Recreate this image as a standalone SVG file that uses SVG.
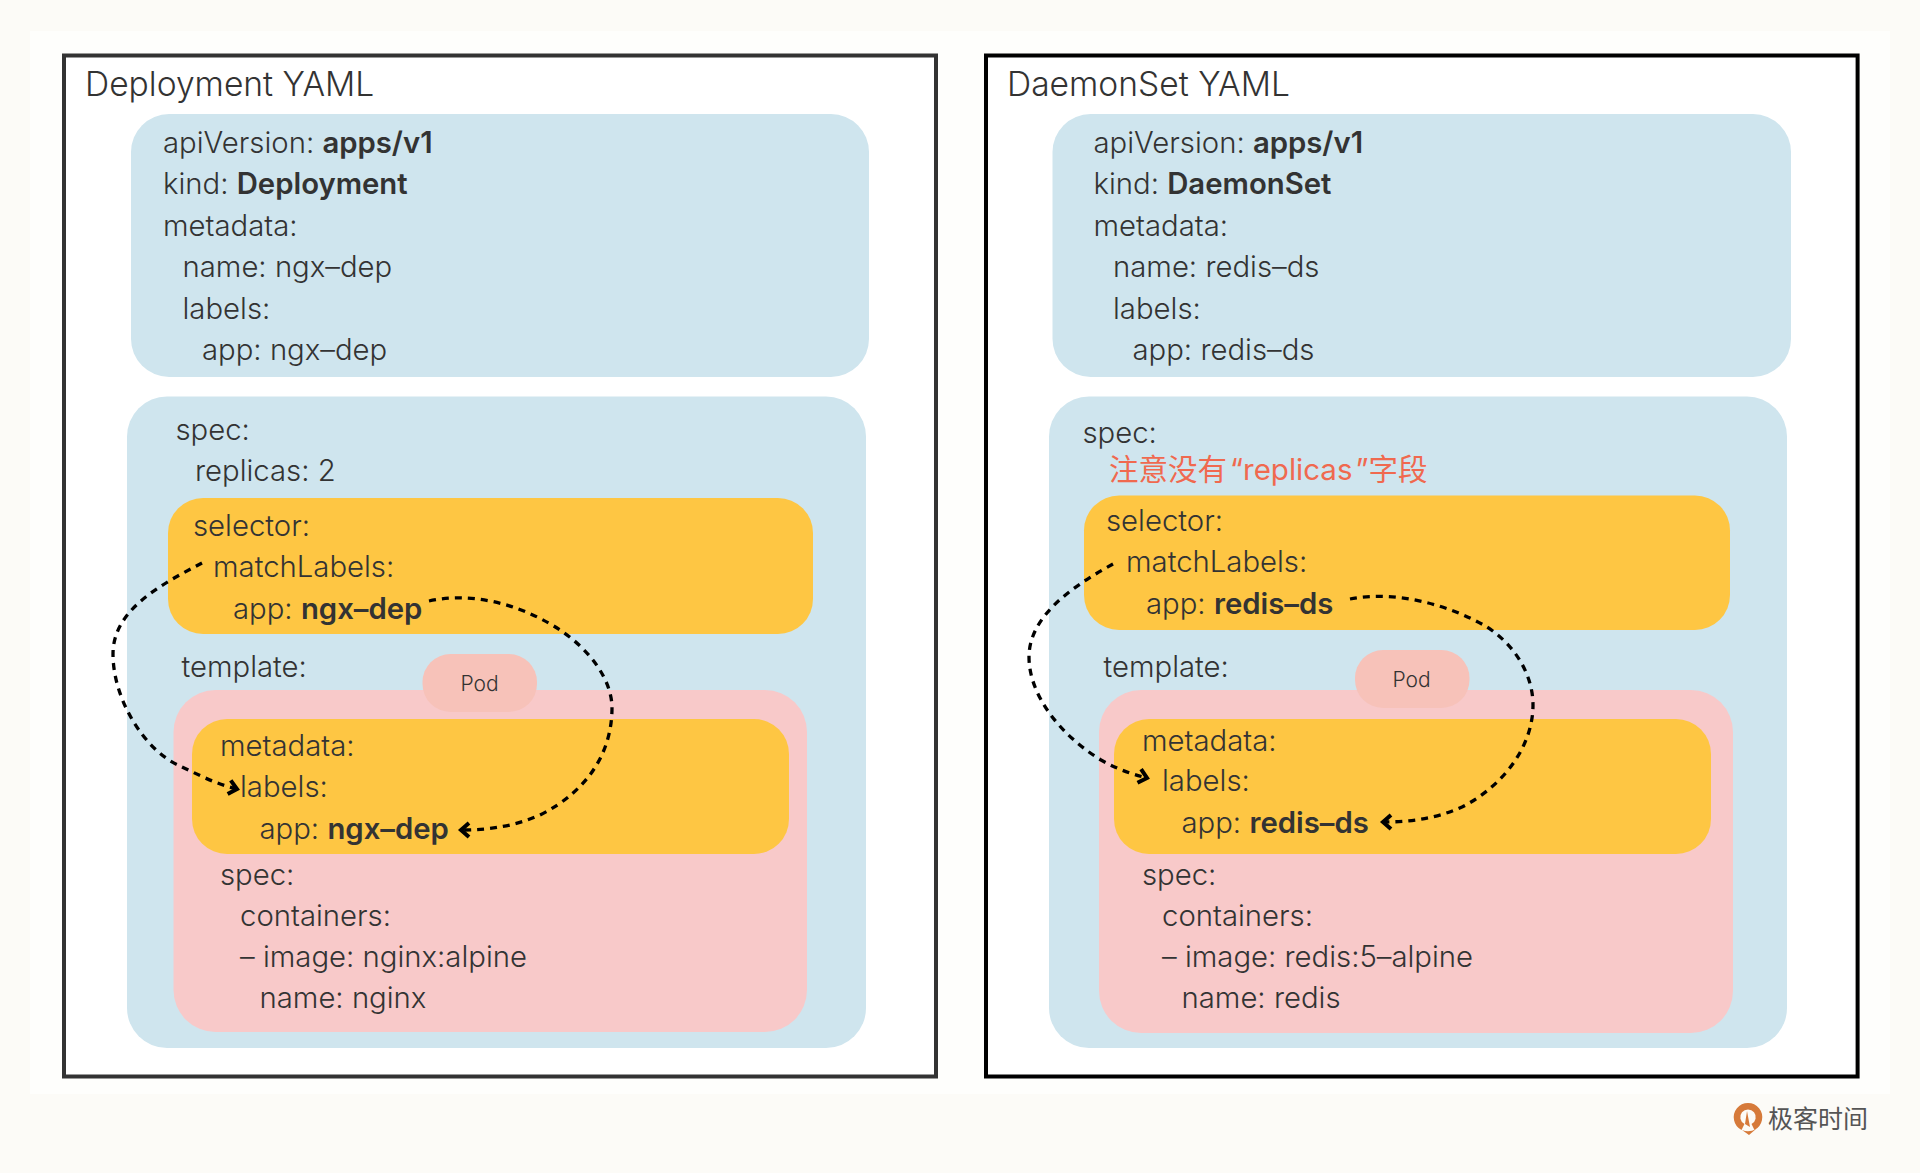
<svg xmlns="http://www.w3.org/2000/svg" width="1920" height="1173" viewBox="0 0 1920 1173">
<style>
text{font-family:"Inter","Noto Sans CJK SC",sans-serif;font-size:29.300px;font-weight:300;fill:#333}
.b{font-weight:600}
.title{font-size:33.600px}
.pod{font-size:21px;text-anchor:middle}
.red{fill:#f0694f;font-size:29.500px;font-weight:400}
.brand{font-family:"Noto Sans CJK SC",sans-serif;font-size:25px;font-weight:400;fill:#555}
.blue{fill:#cfe5ee}.yel{fill:#fec643}.pink{fill:#f8c9c9}.podbg{fill:#f7c2b9}
.frame{fill:#fff;stroke-width:4}
.link{fill:none;stroke:#000;stroke-width:3.300;stroke-dasharray:7 6}
</style>
<defs>
<marker id="arr" markerUnits="userSpaceOnUse" markerWidth="20" markerHeight="20" refX="14" refY="10" orient="auto"><path d="M6 3L14 10L6 17" fill="none" stroke="#000" stroke-width="4"/></marker>
</defs>
<rect width="1920" height="1173" fill="#fcfbf7"/>
<rect x="30" y="31" width="1860" height="1063" fill="#fefefc"/>
<g id="deployment">
<rect class="frame" stroke="#333" x="64" y="55.500" width="872" height="1021"/>
<text class="title" x="85" y="96">Deployment YAML</text>
</g>
<g id="deployment-head">
<rect class="blue" x="131" y="114" width="738" height="263" rx="38"/>
<text x="163" y="153">apiVersion: <tspan class="b">apps/v1</tspan></text>
<text x="163" y="194">kind: <tspan class="b">Deployment</tspan></text>
<text x="163" y="235.500">metadata:</text>
<text x="182.500" y="277">name: ngx–dep</text>
<text x="182.500" y="318.500">labels:</text>
<text x="202" y="360">app: ngx–dep</text>
</g>
<g id="deployment-spec">
<rect class="blue" x="127" y="396.500" width="739" height="651.500" rx="40"/>
<text x="175.500" y="440">spec:</text>
<text x="195" y="481">replicas: 2</text>
<text x="181.500" y="676.500">template:</text>
</g>
<g id="deployment-selector">
<rect class="yel" x="168" y="498" width="645" height="136" rx="35"/>
<text x="193" y="536">selector:</text>
<text x="213" y="577">matchLabels:</text>
<text x="233" y="619">app: <tspan class="b">ngx–dep</tspan></text>
</g>
<g id="deployment-pod">
<rect class="pink" x="173.500" y="690" width="633.500" height="342" rx="42"/>
<text x="220" y="885">spec:</text>
<text x="240" y="926">containers:</text>
<text x="240" y="967">– image: nginx:alpine</text>
<text x="259.500" y="1008">name: nginx</text>
</g>
<g id="deployment-pod-tag">
<rect class="podbg" x="422.500" y="654" width="114.500" height="58" rx="28"/>
<text class="pod" x="479.500" y="690.500">Pod</text>
</g>
<g id="deployment-meta">
<rect class="yel" x="192" y="719" width="597" height="135" rx="35"/>
<text x="220" y="756">metadata:</text>
<text x="240" y="797">labels:</text>
<text x="259.500" y="839">app: <tspan class="b">ngx–dep</tspan></text>
</g>
<g id="daemonset">
<rect class="frame" stroke="#000" x="986" y="55.500" width="871.600" height="1021"/>
<text class="title" x="1007" y="96">DaemonSet YAML</text>
</g>
<g id="daemonset-head">
<rect class="blue" x="1052.500" y="114" width="738.500" height="263" rx="38"/>
<text x="1093.500" y="153">apiVersion: <tspan class="b">apps/v1</tspan></text>
<text x="1093.500" y="194">kind: <tspan class="b">DaemonSet</tspan></text>
<text x="1093.500" y="235.500">metadata:</text>
<text x="1113" y="277">name: redis–ds</text>
<text x="1113" y="318.500">labels:</text>
<text x="1132.500" y="360">app: redis–ds</text>
</g>
<g id="daemonset-spec">
<rect class="blue" x="1049" y="396.500" width="738" height="651.500" rx="40"/>
<text x="1082.500" y="443">spec:</text>
<text class="red" x="1109" y="480">注意没有<tspan dx="3">“</tspan>replicas<tspan dx="3">”</tspan>字段</text>
<text x="1103.500" y="676.500">template:</text>
</g>
<g id="daemonset-selector">
<rect class="yel" x="1084" y="495.500" width="646" height="134.500" rx="35"/>
<text x="1106" y="531">selector:</text>
<text x="1126" y="572">matchLabels:</text>
<text x="1146" y="614">app: <tspan class="b">redis–ds</tspan></text>
</g>
<g id="daemonset-pod">
<rect class="pink" x="1099" y="690" width="634" height="343" rx="42"/>
<text x="1142" y="885">spec:</text>
<text x="1162" y="926">containers:</text>
<text x="1162" y="967">– image: redis:5–alpine</text>
<text x="1181.500" y="1008">name: redis</text>
</g>
<g id="daemonset-pod-tag">
<rect class="podbg" x="1355" y="650" width="114.500" height="58" rx="28"/>
<text class="pod" x="1411.500" y="686.500">Pod</text>
</g>
<g id="daemonset-meta">
<rect class="yel" x="1114" y="719" width="597" height="135" rx="35"/>
<text x="1142" y="750.500">metadata:</text>
<text x="1162" y="791">labels:</text>
<text x="1181.500" y="833">app: <tspan class="b">redis–ds</tspan></text>
</g>
<g id="connectors">
<path class="link" marker-end="url(#arr)" d="M202 563C160 585 113 610 113 654C113 700 145 750 178 765C195 773 215 784 237 789"/>
<path class="link" marker-end="url(#arr)" d="M429 601C480 590 530 610 560 630C590 650 612 680 612 708C612 750 590 790 540 815C515 826 490 830 461 830"/>
<path class="link" marker-end="url(#arr)" d="M1113 564C1075 585 1029 615 1029 657C1029 695 1060 735 1101 760C1115 768 1128 773 1147 778"/>
<path class="link" marker-end="url(#arr)" d="M1350 599C1395 590 1450 605 1487 627C1515 645 1533 675 1533 705C1533 745 1505 785 1462 807C1435 819 1410 822 1383 822"/>
</g>
<g id="logo">
<path d="M1743 1127A11 11 0 1 1 1753 1127" fill="none" stroke="#d67a3a" stroke-width="6.500"/>
<path d="M1747 1111L1745 1124L1750 1127Z" fill="#d67a3a"/>
<path d="M1742 1130Q1749 1133 1756 1129L1749 1135Z" fill="#d67a3a"/>
<text class="brand" x="1768" y="1128">极客时间</text>
</g>
</svg>
